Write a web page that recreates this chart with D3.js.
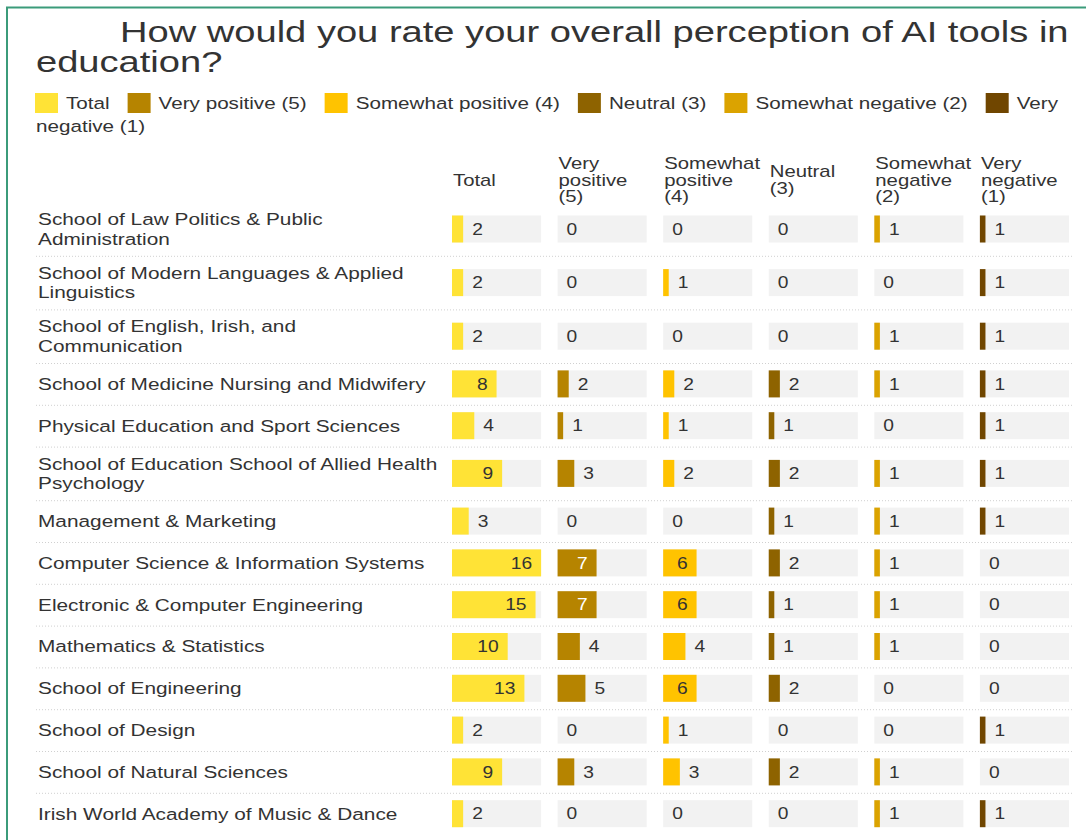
<!DOCTYPE html>
<html>
<head>
<meta charset="utf-8">
<script src="https://cdn.jsdelivr.net/npm/d3@7"></script>
<style>
  body { margin: 0; background: #fff; }
  text { font-family: "Liberation Sans", Arial, Helvetica, sans-serif; fill: #333; }
</style>
</head>
<body>
<div id="chart"></div>
<script>
const schools = [
  'School of Law Politics & Public Administration',
  'School of Modern Languages & Applied Linguistics',
  'School of English, Irish, and Communication',
  'School of Medicine Nursing and Midwifery',
  'Physical Education and Sport Sciences',
  'School of Education School of Allied Health Psychology',
  'Management & Marketing',
  'Computer Science & Information Systems',
  'Electronic & Computer Engineering',
  'Mathematics & Statistics',
  'School of Engineering',
  'School of Design',
  'School of Natural Sciences',
  'Irish World Academy of Music & Dance'
]

const columns = ['Total', 'Very positive (5)', 'Somewhat positive (4)', 'Neutral (3)', 'Somewhat negative (2)', 'Very negative (1)']
const colors = ['#ffe336', '#b68400', '#ffc300', '#8e6300', '#dba300', '#704600']

const total = [2, 2, 2, 8, 4, 9, 3, 16, 15, 10, 13, 2, 9, 2]
const veryPositive = [0, 0, 0, 2, 1, 3, 0, 7, 7, 4, 5, 0, 3, 0]
const somewhatPositive = [0, 1, 0, 2, 1, 2, 0, 6, 6, 4, 6, 1, 3, 0]
const neutral = [0, 0, 0, 2, 1, 2, 1, 2, 1, 1, 2, 0, 2, 0]
const somewhatNegative = [1, 0, 1, 1, 0, 1, 1, 1, 1, 1, 0, 0, 1, 1]
const veryNegative = [1, 1, 1, 1, 1, 1, 1, 0, 0, 0, 0, 1, 0, 1]

const series = [total, veryPositive, somewhatPositive, neutral, somewhatNegative, veryNegative]

const width = 1086
const height = 840

// the source text is drawn a bit wide, so stretch glyphs horizontally
const stretch = { title: 1.27, legend: 1.215, label: 1.225, header: 1.27, value: 1.2 }

const svg = d3
  .select('#chart')
  .append('svg')
  .attr('width', width)
  .attr('height', height)

function addText(parent, x, y, str, size, sx) {
  return parent.append('text')
    .attr('transform', `translate(${x},${y}) scale(${sx},1)`)
    .attr('dy', '0.35em')
    .style('font-size', size + 'px')
    .text(str)
}

// green frame (top + left)
svg.append('path')
  .attr('d', `M7,${height} V7.5 H${width}`)
  .attr('fill', 'none')
  .attr('stroke', '#3b9b7a')
  .attr('stroke-width', 2)

// title
addText(svg, 120, 31, 'How would you rate your overall perception of AI tools in', 30, stretch.title)
addText(svg, 36, 61, 'education?', 30, stretch.title)

// legend, flowing like inline html
const legend = svg.append('g')
let lx = 35
let ly = 103
const legendRight = 1070
columns.forEach((c, i) => {
  legend.append('rect')
    .attr('x', lx)
    .attr('y', ly - 10)
    .attr('width', 23)
    .attr('height', 20)
    .attr('fill', colors[i])
  lx += 31
  const words = c.split(' ')
  let line = ''
  let t = addText(legend, lx, ly, '', 17, stretch.legend)
  words.forEach(w => {
    const test = line ? line + ' ' + w : w
    t.text(test)
    if (lx + t.node().getComputedTextLength() * stretch.legend > legendRight && line) {
      t.text(line)
      ly += 23
      lx = 36
      line = w
      t = addText(legend, lx, ly, w, 17, stretch.legend)
    } else {
      line = test
    }
  })
  lx += t.node().getComputedTextLength() * stretch.legend + 18
})

// columns
const colScale = d3.scaleBand()
  .domain(columns)
  .range([452, 1069])
  .paddingInner(0.156)
  .paddingOuter(0)

const valueScale = d3.scaleLinear()
  .domain([0, d3.max(total)])
  .range([0, colScale.bandwidth()])

// column headers, one word per line, centred at y 180
const header = svg.append('g')
columns.forEach(c => {
  const words = c.split(' ')
  const lh = 16.5
  words.forEach((w, j) => {
    addText(header, colScale(c) + 1, 180 + (j - (words.length - 1) / 2) * lh, w, 16, stretch.header)
  })
})

// measure + wrap row labels
const labelWidth = 403
const measure = svg.append('text').style('font-size', '17px').attr('opacity', 0)
function wrap(str) {
  const words = str.split(' ')
  const lines = []
  let line = ''
  words.forEach(w => {
    const test = line ? line + ' ' + w : w
    measure.text(test)
    if (measure.node().getComputedTextLength() * stretch.label > labelWidth && line) {
      lines.push(line)
      line = w
    } else {
      line = test
    }
  })
  lines.push(line)
  return lines
}
const labelLines = schools.map(wrap)
measure.remove()

const oneLine = 41.8
const twoLine = 53.6
let y0 = 202.2
const rows = schools.map((s, i) => {
  const h = labelLines[i].length > 1 ? twoLine : oneLine
  const r = { name: s, lines: labelLines[i], top: y0, h: h, index: i }
  y0 += h
  return r
})

const cellH = 27

const rowG = svg.selectAll('.row')
  .data(rows)
  .enter()
  .append('g')
  .attr('class', 'row')
  .attr('transform', d => `translate(0,${d.top + d.h / 2})`)

rowG.each(function(d) {
  const g = d3.select(this)
  d.lines.forEach((l, j) => {
    addText(g, 38, (j - (d.lines.length - 1) / 2) * 19.5, l, 17, stretch.label)
  })

  columns.forEach((c, k) => {
    const v = series[k][d.index]
    const x = colScale(c)
    g.append('rect')
      .attr('x', x)
      .attr('y', -cellH / 2)
      .attr('width', colScale.bandwidth())
      .attr('height', cellH)
      .attr('fill', '#f2f2f2')
    g.append('rect')
      .attr('x', x)
      .attr('y', -cellH / 2)
      .attr('width', valueScale(v))
      .attr('height', cellH)
      .attr('fill', colors[k])

    const bw = valueScale(v)
    const t = addText(g, 0, 0, v, 16, stretch.value)
    const tw = t.node().getComputedTextLength() * stretch.value
    if (bw >= tw + 18) {
      const dark = d3.lab(colors[k]).l < 65
      t.attr('transform', `translate(${x + bw - 9},0) scale(${stretch.value},1)`)
        .attr('text-anchor', 'end')
        .style('fill', dark ? '#fff' : '#333')
    } else {
      t.attr('transform', `translate(${x + bw + 9},0) scale(${stretch.value},1)`)
    }
  })
})

// dotted separators between rows
svg.selectAll('.sep')
  .data(rows.slice(0, -1))
  .enter()
  .append('line')
  .attr('class', 'sep')
  .attr('x1', 36)
  .attr('x2', 1072)
  .attr('y1', d => d.top + d.h + 0.5)
  .attr('y2', d => d.top + d.h + 0.5)
  .attr('stroke', '#d0d0d0')
  .attr('stroke-dasharray', '1,2')
</script>
</body>
</html>
